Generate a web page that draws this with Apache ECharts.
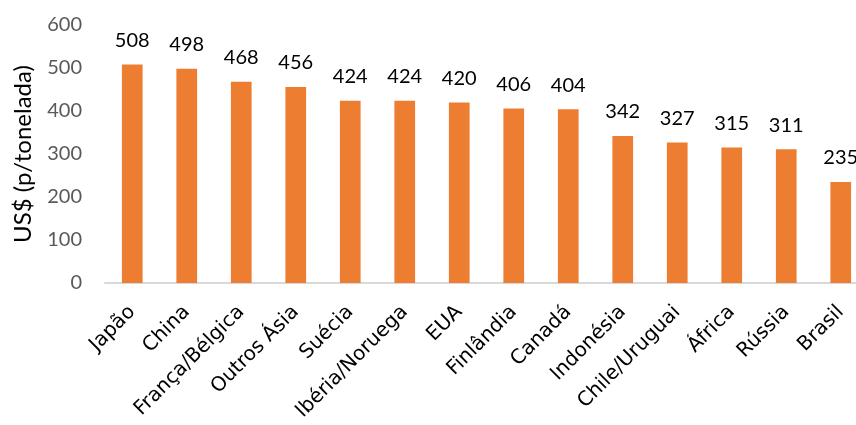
<!DOCTYPE html>
<html>
<head>
<meta charset="utf-8">
<script src="https://cdn.jsdelivr.net/npm/echarts@6/dist/echarts.min.js"></script>
<style>
  html, body { margin: 0; padding: 0; background: #fff; }
  #chart { width: 856px; height: 425px; }
</style>
</head>
<body>
<div id="chart"></div>
<script>
// preço por região (US$ p/tonelada)
var regioes = ['Japão', 'China', 'França/Bélgica', 'Outros Ásia', 'Suécia', 'Ibéria/Noruega',
    'EUA', 'Finlândia', 'Canadá', 'Indonésia', 'Chile/Uruguai', 'África', 'Rússia', 'Brasil'];
var precos = [508, 498, 468, 456, 424, 424, 420, 406, 404, 342, 327, 315, 311, 235];
var yTicks = [0, 100, 200, 300, 400, 500, 600];

var myChart = echarts.init(document.getElementById('chart'));

var option = {
    animation: false,
    grid: {
        left: 105,
        top: 25,
        bottom: 142,
        width: 763,
        containLabel: false,
        outerBoundsMode: 'none'
    },
    xAxis: {
        type: 'category',
        data: regioes,
        axisLine: { lineStyle: { color: '#D9D9D9', width: 2 } },
        axisTick: { show: false },
        axisLabel: {
            rotate: 45,
            interval: 0,
            margin: 26,
            color: '#000',
            fontFamily: '"DejaVu Sans", Verdana, sans-serif',
            fontSize: 20
        }
    },
    yAxis: {
        type: 'value',
        min: yTicks[0],
        max: yTicks[yTicks.length - 1],
        interval: 100,
        name: 'US$ (p/tonelada)',
        nameLocation: 'middle',
        nameGap: 70,
        nameTextStyle: { color: '#000', fontFamily: 'Lato', fontSize: 24 },
        axisLine: { show: false },
        axisTick: { show: false },
        splitLine: { show: false },
        axisLabel: {
            margin: 23,
            color: '#595959',
            fontFamily: 'Lato',
            fontSize: 20
        }
    },
    series: [{
        type: 'bar',
        data: precos,
        barWidth: '38%',
        itemStyle: { color: '#ED7D31' },
        label: {
            show: true,
            position: 'top',
            distance: 14,
            color: '#000',
            fontFamily: 'Lato',
            fontSize: 20
        }
    }]
};

myChart.setOption(option);
</script>
</body>
</html>
